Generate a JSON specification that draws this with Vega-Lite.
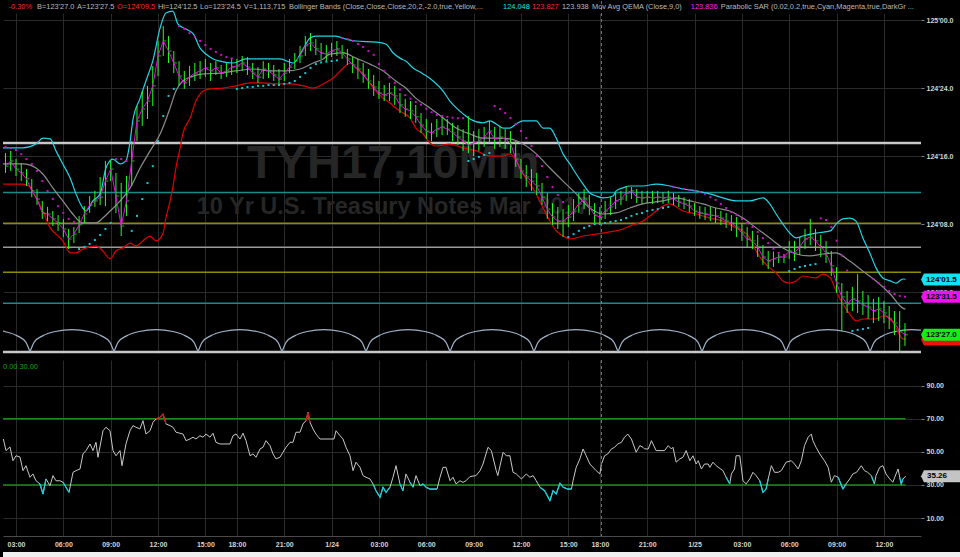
{
"$schema": "https://vega.github.io/schema/vega-lite/v6.json",
"background": "#000000",
"padding": 0,
"spacing": 4,
"config": {
 "view": {"stroke": null},
 "font": "Liberation Sans",
 "axis": {"labelFont": "Liberation Sans", "labelFontSize": 7, "labelFontWeight": "bold", "labelColor": "#d8d4cc", "gridColor": "#2a2a2a", "gridWidth": 1, "tickColor": "#808080", "domain": false},
 "text": {"font": "Liberation Sans"}
},
"datasets": {
 "one": [{}],
 "levels": [
  {"p": 124.549, "kind": "W"}, {"p": 123.781, "kind": "W"},
  {"p": 124.367, "kind": "T"}, {"p": 123.960, "kind": "T"},
  {"p": 124.254, "kind": "O"}, {"p": 124.074, "kind": "O"},
  {"p": 124.166, "kind": "G"}
 ],
 "hdr": [
  {"k": -1.4, "s": "-0.30%", "kind": "R"},
  {"k": 4.0, "s": "B=123'27.0", "kind": "N"},
  {"k": 11.6, "s": "A=123'27.5", "kind": "N"},
  {"k": 19.2, "s": "O=124'09.5", "kind": "R"},
  {"k": 27.0, "s": "Hi=124'12.5", "kind": "N"},
  {"k": 35.0, "s": "Lo=123'24.5", "kind": "N"},
  {"k": 43.3, "s": "V=1,113,715", "kind": "N"},
  {"k": 51.9, "s": "Bollinger Bands (Close,Close,Close,20,2,-2.0,true,Yellow,...", "kind": "N"},
  {"k": 92.6, "s": "124.048", "kind": "C"},
  {"k": 98.1, "s": "123.827", "kind": "R"},
  {"k": 103.8, "s": "123.938", "kind": "N"},
  {"k": 109.5, "s": "Mov Avg QEMA (Close,9,0)", "kind": "N"},
  {"k": 128.3, "s": "123.836", "kind": "M"},
  {"k": 134.0, "s": "Parabolic SAR (0.02,0.2,true,Cyan,Magenta,true,DarkGr ...", "kind": "N"}
 ],
 "arcs": [
  {"k":-2.47,"p":123.858,"a":0},{"k":-2.14,"p":123.856,"a":0},{"k":0.26,"p":123.840,"a":0},{"k":1.86,"p":123.817,"a":0},{"k":2.66,"p":123.781,"a":0},
  {"k":2.66,"p":123.781,"a":1},{"k":3.46,"p":123.817,"a":1},{"k":5.06,"p":123.840,"a":1},{"k":7.46,"p":123.856,"a":1},{"k":10.65,"p":123.863,"a":1},{"k":13.84,"p":123.856,"a":1},{"k":16.24,"p":123.840,"a":1},{"k":17.84,"p":123.817,"a":1},{"k":18.63,"p":123.781,"a":1},
  {"k":18.63,"p":123.781,"a":2},{"k":19.43,"p":123.817,"a":2},{"k":21.03,"p":123.840,"a":2},{"k":23.43,"p":123.856,"a":2},{"k":26.62,"p":123.863,"a":2},{"k":29.81,"p":123.856,"a":2},{"k":32.21,"p":123.840,"a":2},{"k":33.81,"p":123.817,"a":2},{"k":34.60,"p":123.781,"a":2},
  {"k":34.60,"p":123.781,"a":3},{"k":35.40,"p":123.817,"a":3},{"k":37.00,"p":123.840,"a":3},{"k":39.40,"p":123.856,"a":3},{"k":42.59,"p":123.863,"a":3},{"k":45.78,"p":123.856,"a":3},{"k":48.18,"p":123.840,"a":3},{"k":49.78,"p":123.817,"a":3},{"k":50.57,"p":123.781,"a":3},
  {"k":50.57,"p":123.781,"a":4},{"k":51.37,"p":123.817,"a":4},{"k":52.97,"p":123.840,"a":4},{"k":55.37,"p":123.856,"a":4},{"k":58.56,"p":123.863,"a":4},{"k":61.75,"p":123.856,"a":4},{"k":64.15,"p":123.840,"a":4},{"k":65.75,"p":123.817,"a":4},{"k":66.54,"p":123.781,"a":4},
  {"k":66.54,"p":123.781,"a":5},{"k":67.34,"p":123.817,"a":5},{"k":68.94,"p":123.840,"a":5},{"k":71.34,"p":123.856,"a":5},{"k":74.53,"p":123.863,"a":5},{"k":77.72,"p":123.856,"a":5},{"k":80.12,"p":123.840,"a":5},{"k":81.72,"p":123.817,"a":5},{"k":82.51,"p":123.781,"a":5},
  {"k":82.51,"p":123.781,"a":6},{"k":83.31,"p":123.817,"a":6},{"k":84.91,"p":123.840,"a":6},{"k":87.31,"p":123.856,"a":6},{"k":90.50,"p":123.863,"a":6},{"k":93.69,"p":123.856,"a":6},{"k":96.09,"p":123.840,"a":6},{"k":97.69,"p":123.817,"a":6},{"k":98.48,"p":123.781,"a":6},
  {"k":98.48,"p":123.781,"a":7},{"k":99.28,"p":123.817,"a":7},{"k":100.88,"p":123.840,"a":7},{"k":103.28,"p":123.856,"a":7},{"k":106.47,"p":123.863,"a":7},{"k":109.66,"p":123.856,"a":7},{"k":112.06,"p":123.840,"a":7},{"k":113.66,"p":123.817,"a":7},{"k":114.45,"p":123.781,"a":7},
  {"k":114.45,"p":123.781,"a":8},{"k":115.25,"p":123.817,"a":8},{"k":116.85,"p":123.840,"a":8},{"k":119.25,"p":123.856,"a":8},{"k":122.44,"p":123.863,"a":8},{"k":125.63,"p":123.856,"a":8},{"k":128.03,"p":123.840,"a":8},{"k":129.63,"p":123.817,"a":8},{"k":130.42,"p":123.781,"a":8},
  {"k":130.42,"p":123.781,"a":9},{"k":131.22,"p":123.817,"a":9},{"k":132.82,"p":123.840,"a":9},{"k":135.22,"p":123.856,"a":9},{"k":138.41,"p":123.863,"a":9},{"k":141.60,"p":123.856,"a":9},{"k":144.00,"p":123.840,"a":9},{"k":145.60,"p":123.817,"a":9},{"k":146.39,"p":123.781,"a":9},
  {"k":146.39,"p":123.781,"a":10},{"k":147.19,"p":123.817,"a":10},{"k":148.79,"p":123.840,"a":10},{"k":151.19,"p":123.856,"a":10},{"k":154.38,"p":123.863,"a":10},{"k":157.57,"p":123.856,"a":10},{"k":159.97,"p":123.840,"a":10},{"k":161.57,"p":123.817,"a":10},{"k":162.36,"p":123.781,"a":10},
  {"k":162.36,"p":123.781,"a":11},{"k":163.16,"p":123.817,"a":11},{"k":164.76,"p":123.840,"a":11},{"k":167.16,"p":123.856,"a":11},{"k":170.35,"p":123.863,"a":11},{"k":172.05,"p":123.861,"a":11}
 ],
 "bands": [
  {"k":-2.47,"p":124.531,"b":"U"},{"k":1.3,"p":124.531,"b":"U"},{"k":3.8,"p":124.545,"b":"U"},{"k":5.1,"p":124.567,"b":"U"},{"k":6.5,"p":124.564,"b":"U"},{"k":7.6,"p":124.520,"b":"U"},{"k":8.9,"p":124.472,"b":"U"},{"k":10.3,"p":124.420,"b":"U"},{"k":11.4,"p":124.362,"b":"U"},{"k":12.7,"p":124.310,"b":"U"},{"k":13.3,"p":124.299,"b":"U"},{"k":14.6,"p":124.336,"b":"U"},{"k":16.0,"p":124.362,"b":"U"},{"k":17.1,"p":124.457,"b":"U"},{"k":18.4,"p":124.490,"b":"U"},{"k":19.8,"p":124.472,"b":"U"},{"k":20.9,"p":124.483,"b":"U"},{"k":21.7,"p":124.556,"b":"U"},{"k":22.2,"p":124.630,"b":"U"},{"k":23.6,"p":124.714,"b":"U"},{"k":24.7,"p":124.777,"b":"U"},{"k":26.0,"p":124.850,"b":"U"},{"k":27.4,"p":124.972,"b":"U"},{"k":28.5,"p":125.027,"b":"U"},{"k":29.8,"p":125.034,"b":"U"},{"k":30.8,"p":124.986,"b":"U"},{"k":32.3,"p":124.968,"b":"U"},{"k":33.7,"p":124.950,"b":"U"},{"k":35.0,"p":124.898,"b":"U"},{"k":36.1,"p":124.876,"b":"U"},{"k":37.5,"p":124.858,"b":"U"},{"k":38.8,"p":124.850,"b":"U"},{"k":41.3,"p":124.843,"b":"U"},{"k":43.7,"p":124.858,"b":"U"},{"k":47.0,"p":124.858,"b":"U"},{"k":50.2,"p":124.858,"b":"U"},{"k":52.7,"p":124.843,"b":"U"},{"k":54.6,"p":124.895,"b":"U"},{"k":55.9,"p":124.935,"b":"U"},{"k":57.0,"p":124.942,"b":"U"},{"k":60.8,"p":124.942,"b":"U"},{"k":62.7,"p":124.931,"b":"U"},{"k":64.6,"p":124.924,"b":"U"},{"k":68.4,"p":124.920,"b":"U"},{"k":70.3,"p":124.913,"b":"U"},{"k":71.7,"p":124.880,"b":"U"},{"k":73.0,"p":124.861,"b":"U"},{"k":74.1,"p":124.850,"b":"U"},{"k":75.5,"p":124.825,"b":"U"},{"k":77.4,"p":124.803,"b":"U"},{"k":79.3,"p":124.777,"b":"U"},{"k":81.2,"p":124.740,"b":"U"},{"k":82.5,"p":124.703,"b":"U"},{"k":83.7,"p":124.678,"b":"U"},{"k":85.0,"p":124.656,"b":"U"},{"k":86.3,"p":124.637,"b":"U"},{"k":88.8,"p":124.623,"b":"U"},{"k":90.1,"p":124.630,"b":"U"},{"k":91.3,"p":124.619,"b":"U"},{"k":92.6,"p":124.604,"b":"U"},{"k":93.9,"p":124.604,"b":"U"},{"k":95.1,"p":124.619,"b":"U"},{"k":96.4,"p":124.630,"b":"U"},{"k":98.9,"p":124.630,"b":"U"},{"k":100.2,"p":124.604,"b":"U"},{"k":101.5,"p":124.604,"b":"U"},{"k":102.7,"p":124.567,"b":"U"},{"k":104.0,"p":124.509,"b":"U"},{"k":105.3,"p":124.472,"b":"U"},{"k":106.5,"p":124.435,"b":"U"},{"k":107.8,"p":124.398,"b":"U"},{"k":109.1,"p":124.365,"b":"U"},{"k":110.3,"p":124.354,"b":"U"},{"k":111.6,"p":124.347,"b":"U"},{"k":113.5,"p":124.354,"b":"U"},{"k":114.1,"p":124.373,"b":"U"},{"k":115.4,"p":124.384,"b":"U"},{"k":116.7,"p":124.391,"b":"U"},{"k":119.2,"p":124.391,"b":"U"},{"k":121.7,"p":124.398,"b":"U"},{"k":124.3,"p":124.391,"b":"U"},{"k":126.8,"p":124.380,"b":"U"},{"k":129.3,"p":124.373,"b":"U"},{"k":131.9,"p":124.362,"b":"U"},{"k":134.4,"p":124.347,"b":"U"},{"k":136.9,"p":124.336,"b":"U"},{"k":139.5,"p":124.336,"b":"U"},{"k":142.0,"p":124.347,"b":"U"},{"k":143.3,"p":124.325,"b":"U"},{"k":144.5,"p":124.288,"b":"U"},{"k":145.8,"p":124.251,"b":"U"},{"k":147.1,"p":124.218,"b":"U"},{"k":148.3,"p":124.200,"b":"U"},{"k":149.6,"p":124.207,"b":"U"},{"k":152.1,"p":124.218,"b":"U"},{"k":154.8,"p":124.226,"b":"U"},{"k":155.9,"p":124.251,"b":"U"},{"k":157.2,"p":124.270,"b":"U"},{"k":158.5,"p":124.273,"b":"U"},{"k":159.7,"p":124.262,"b":"U"},{"k":161.0,"p":124.200,"b":"U"},{"k":162.4,"p":124.141,"b":"U"},{"k":163.5,"p":124.090,"b":"U"},{"k":164.8,"p":124.053,"b":"U"},{"k":166.2,"p":124.042,"b":"U"},{"k":167.3,"p":124.034,"b":"U"},{"k":168.6,"p":124.049,"b":"U"},{"k":169.1,"p":124.048,"b":"U"},
  {"k":-2.47,"p":124.398,"b":"L"},{"k":1.3,"p":124.398,"b":"L"},{"k":2.7,"p":124.387,"b":"L"},{"k":3.8,"p":124.347,"b":"L"},{"k":5.1,"p":124.299,"b":"L"},{"k":6.5,"p":124.237,"b":"L"},{"k":7.6,"p":124.214,"b":"L"},{"k":8.9,"p":124.189,"b":"L"},{"k":10.3,"p":124.145,"b":"L"},{"k":11.4,"p":124.145,"b":"L"},{"k":12.7,"p":124.159,"b":"L"},{"k":15.2,"p":124.170,"b":"L"},{"k":16.5,"p":124.152,"b":"L"},{"k":17.9,"p":124.123,"b":"L"},{"k":19.0,"p":124.152,"b":"L"},{"k":20.3,"p":124.163,"b":"L"},{"k":21.7,"p":124.181,"b":"L"},{"k":22.8,"p":124.170,"b":"L"},{"k":24.1,"p":124.189,"b":"L"},{"k":25.5,"p":124.207,"b":"L"},{"k":26.6,"p":124.189,"b":"L"},{"k":27.9,"p":124.214,"b":"L"},{"k":28.5,"p":124.273,"b":"L"},{"k":29.3,"p":124.336,"b":"L"},{"k":29.8,"p":124.384,"b":"L"},{"k":30.4,"p":124.457,"b":"L"},{"k":31.2,"p":124.531,"b":"L"},{"k":31.7,"p":124.582,"b":"L"},{"k":33.1,"p":124.641,"b":"L"},{"k":34.2,"p":124.703,"b":"L"},{"k":35.6,"p":124.740,"b":"L"},{"k":36.9,"p":124.748,"b":"L"},{"k":39.4,"p":124.751,"b":"L"},{"k":41.8,"p":124.759,"b":"L"},{"k":44.5,"p":124.770,"b":"L"},{"k":47.0,"p":124.770,"b":"L"},{"k":49.4,"p":124.766,"b":"L"},{"k":52.1,"p":124.766,"b":"L"},{"k":54.6,"p":124.759,"b":"L"},{"k":56.5,"p":124.751,"b":"L"},{"k":58.4,"p":124.766,"b":"L"},{"k":60.3,"p":124.788,"b":"L"},{"k":62.2,"p":124.825,"b":"L"},{"k":63.5,"p":124.843,"b":"L"},{"k":64.6,"p":124.825,"b":"L"},{"k":66.0,"p":124.803,"b":"L"},{"k":67.3,"p":124.766,"b":"L"},{"k":68.4,"p":124.740,"b":"L"},{"k":69.8,"p":124.714,"b":"L"},{"k":71.1,"p":124.696,"b":"L"},{"k":72.2,"p":124.678,"b":"L"},{"k":73.6,"p":124.659,"b":"L"},{"k":74.9,"p":124.641,"b":"L"},{"k":76.0,"p":124.604,"b":"L"},{"k":77.4,"p":124.582,"b":"L"},{"k":78.7,"p":124.549,"b":"L"},{"k":79.8,"p":124.538,"b":"L"},{"k":82.5,"p":124.545,"b":"L"},{"k":85.0,"p":124.531,"b":"L"},{"k":87.5,"p":124.520,"b":"L"},{"k":90.1,"p":124.501,"b":"L"},{"k":92.6,"p":124.501,"b":"L"},{"k":93.9,"p":124.509,"b":"L"},{"k":95.1,"p":124.483,"b":"L"},{"k":96.4,"p":124.435,"b":"L"},{"k":97.7,"p":124.398,"b":"L"},{"k":98.9,"p":124.362,"b":"L"},{"k":100.2,"p":124.310,"b":"L"},{"k":101.5,"p":124.262,"b":"L"},{"k":102.7,"p":124.226,"b":"L"},{"k":104.0,"p":124.207,"b":"L"},{"k":105.3,"p":124.196,"b":"L"},{"k":106.5,"p":124.200,"b":"L"},{"k":107.8,"p":124.207,"b":"L"},{"k":110.3,"p":124.214,"b":"L"},{"k":112.9,"p":124.222,"b":"L"},{"k":115.4,"p":124.233,"b":"L"},{"k":116.7,"p":124.244,"b":"L"},{"k":119.2,"p":124.262,"b":"L"},{"k":121.7,"p":124.299,"b":"L"},{"k":123.0,"p":124.317,"b":"L"},{"k":124.3,"p":124.325,"b":"L"},{"k":126.8,"p":124.299,"b":"L"},{"k":129.3,"p":124.288,"b":"L"},{"k":131.9,"p":124.273,"b":"L"},{"k":134.4,"p":124.262,"b":"L"},{"k":136.9,"p":124.237,"b":"L"},{"k":138.2,"p":124.226,"b":"L"},{"k":139.5,"p":124.200,"b":"L"},{"k":140.7,"p":124.152,"b":"L"},{"k":142.0,"p":124.115,"b":"L"},{"k":143.3,"p":124.090,"b":"L"},{"k":144.5,"p":124.071,"b":"L"},{"k":145.8,"p":124.042,"b":"L"},{"k":147.1,"p":124.034,"b":"L"},{"k":148.3,"p":124.042,"b":"L"},{"k":149.6,"p":124.060,"b":"L"},{"k":152.1,"p":124.053,"b":"L"},{"k":153.4,"p":124.067,"b":"L"},{"k":154.8,"p":124.053,"b":"L"},{"k":155.9,"p":124.005,"b":"L"},{"k":157.2,"p":123.957,"b":"L"},{"k":158.5,"p":123.920,"b":"L"},{"k":159.7,"p":123.895,"b":"L"},{"k":161.0,"p":123.902,"b":"L"},{"k":163.5,"p":123.902,"b":"L"},{"k":164.8,"p":123.913,"b":"L"},{"k":166.2,"p":123.906,"b":"L"},{"k":167.3,"p":123.869,"b":"L"},{"k":168.6,"p":123.829,"b":"L"},{"k":169.1,"p":123.827,"b":"L"},
  {"k":-2.47,"p":124.472,"b":"M"},{"k":1.3,"p":124.472,"b":"M"},{"k":3.8,"p":124.457,"b":"M"},{"k":5.1,"p":124.435,"b":"M"},{"k":7.0,"p":124.384,"b":"M"},{"k":8.9,"p":124.336,"b":"M"},{"k":10.8,"p":124.288,"b":"M"},{"k":12.7,"p":124.255,"b":"M"},{"k":15.2,"p":124.255,"b":"M"},{"k":16.5,"p":124.273,"b":"M"},{"k":17.9,"p":124.299,"b":"M"},{"k":19.8,"p":124.336,"b":"M"},{"k":21.7,"p":124.384,"b":"M"},{"k":23.6,"p":124.457,"b":"M"},{"k":25.5,"p":124.520,"b":"M"},{"k":27.4,"p":124.582,"b":"M"},{"k":29.3,"p":124.678,"b":"M"},{"k":30.4,"p":124.740,"b":"M"},{"k":31.7,"p":124.777,"b":"M"},{"k":33.7,"p":124.795,"b":"M"},{"k":35.6,"p":124.803,"b":"M"},{"k":38.8,"p":124.806,"b":"M"},{"k":41.8,"p":124.814,"b":"M"},{"k":45.1,"p":124.821,"b":"M"},{"k":48.3,"p":124.814,"b":"M"},{"k":51.3,"p":124.814,"b":"M"},{"k":54.0,"p":124.821,"b":"M"},{"k":56.5,"p":124.843,"b":"M"},{"k":58.4,"p":124.858,"b":"M"},{"k":59.7,"p":124.876,"b":"M"},{"k":62.2,"p":124.880,"b":"M"},{"k":64.6,"p":124.861,"b":"M"},{"k":67.3,"p":124.839,"b":"M"},{"k":69.8,"p":124.814,"b":"M"},{"k":72.2,"p":124.777,"b":"M"},{"k":74.1,"p":124.751,"b":"M"},{"k":76.0,"p":124.714,"b":"M"},{"k":78.7,"p":124.678,"b":"M"},{"k":81.2,"p":124.641,"b":"M"},{"k":83.7,"p":124.604,"b":"M"},{"k":86.3,"p":124.582,"b":"M"},{"k":88.8,"p":124.567,"b":"M"},{"k":91.3,"p":124.567,"b":"M"},{"k":93.9,"p":124.564,"b":"M"},{"k":96.4,"p":124.545,"b":"M"},{"k":98.9,"p":124.509,"b":"M"},{"k":101.5,"p":124.457,"b":"M"},{"k":104.0,"p":124.409,"b":"M"},{"k":106.5,"p":124.362,"b":"M"},{"k":109.1,"p":124.310,"b":"M"},{"k":111.6,"p":124.288,"b":"M"},{"k":114.1,"p":124.292,"b":"M"},{"k":116.7,"p":124.310,"b":"M"},{"k":119.2,"p":124.325,"b":"M"},{"k":123.0,"p":124.336,"b":"M"},{"k":125.5,"p":124.347,"b":"M"},{"k":128.1,"p":124.336,"b":"M"},{"k":130.6,"p":124.325,"b":"M"},{"k":133.1,"p":124.310,"b":"M"},{"k":135.7,"p":124.299,"b":"M"},{"k":138.2,"p":124.273,"b":"M"},{"k":140.7,"p":124.237,"b":"M"},{"k":143.3,"p":124.200,"b":"M"},{"k":145.8,"p":124.163,"b":"M"},{"k":148.3,"p":124.141,"b":"M"},{"k":150.9,"p":124.134,"b":"M"},{"k":153.4,"p":124.141,"b":"M"},{"k":155.9,"p":124.145,"b":"M"},{"k":158.5,"p":124.115,"b":"M"},{"k":161.0,"p":124.078,"b":"M"},{"k":163.5,"p":124.042,"b":"M"},{"k":166.2,"p":123.994,"b":"M"},{"k":168.6,"p":123.942,"b":"M"},{"k":169.1,"p":123.938,"b":"M"}
 ],
 "bars": [
  {"k":-2,"h":124.512,"l":124.439,"c":124.464,"s":124.535,"sd":"d"},
  {"k":-1,"h":124.520,"l":124.446,"c":124.483,"s":124.530,"sd":"d"},
  {"k":0,"h":124.490,"l":124.428,"c":124.453,"s":124.523,"sd":"d"},
  {"k":1,"h":124.475,"l":124.409,"c":124.439,"s":124.508,"sd":"d"},
  {"k":2,"h":124.453,"l":124.391,"c":124.417,"s":124.490,"sd":"d"},
  {"k":3,"h":124.417,"l":124.350,"c":124.373,"s":124.472,"sd":"d"},
  {"k":4,"h":124.380,"l":124.321,"c":124.343,"s":124.446,"sd":"d"},
  {"k":5,"h":124.336,"l":124.270,"c":124.292,"s":124.409,"sd":"d"},
  {"k":6,"h":124.314,"l":124.262,"c":124.288,"s":124.373,"sd":"d"},
  {"k":7,"h":124.299,"l":124.244,"c":124.270,"s":124.343,"sd":"d"},
  {"k":8,"h":124.284,"l":124.226,"c":124.255,"s":124.317,"sd":"d"},
  {"k":9,"h":124.270,"l":124.203,"c":124.233,"s":124.292,"sd":"d"},
  {"k":10,"h":124.233,"l":124.159,"c":124.196,"s":124.270,"sd":"d"},
  {"k":11,"h":124.240,"l":124.181,"c":124.214,"s":124.259,"sd":"d"},
  {"k":12,"h":124.281,"l":124.218,"c":124.248,"s":124.159,"sd":"u"},
  {"k":13,"h":124.317,"l":124.255,"c":124.288,"s":124.167,"sd":"u"},
  {"k":14,"h":124.354,"l":124.292,"c":124.321,"s":124.178,"sd":"u"},
  {"k":15,"h":124.373,"l":124.314,"c":124.336,"s":124.192,"sd":"u"},
  {"k":16,"h":124.424,"l":124.321,"c":124.350,"s":124.211,"sd":"u"},
  {"k":17,"h":124.483,"l":124.317,"c":124.409,"s":124.233,"sd":"u"},
  {"k":18,"h":124.483,"l":124.409,"c":124.453,"s":124.255,"sd":"u"},
  {"k":19,"h":124.439,"l":124.292,"c":124.354,"s":124.490,"sd":"d"},
  {"k":20,"h":124.402,"l":124.207,"c":124.244,"s":124.490,"sd":"d"},
  {"k":21,"h":124.428,"l":124.281,"c":124.336,"s":124.483,"sd":"d"},
  {"k":22,"h":124.556,"l":124.391,"c":124.483,"s":124.226,"sd":"u"},
  {"k":23,"h":124.685,"l":124.556,"c":124.630,"s":124.281,"sd":"u"},
  {"k":24,"h":124.740,"l":124.612,"c":124.674,"s":124.343,"sd":"u"},
  {"k":25,"h":124.759,"l":124.637,"c":124.703,"s":124.402,"sd":"u"},
  {"k":26,"h":124.832,"l":124.685,"c":124.759,"s":124.464,"sd":"u"},
  {"k":27,"h":124.924,"l":124.795,"c":124.869,"s":124.556,"sd":"u"},
  {"k":28,"h":124.979,"l":124.869,"c":124.924,"s":124.648,"sd":"u"},
  {"k":29,"h":124.942,"l":124.843,"c":124.887,"s":124.722,"sd":"u"},
  {"k":30,"h":124.887,"l":124.806,"c":124.843,"s":124.748,"sd":"u"},
  {"k":31,"h":124.850,"l":124.759,"c":124.795,"s":124.979,"sd":"d"},
  {"k":32,"h":124.814,"l":124.748,"c":124.770,"s":124.968,"sd":"d"},
  {"k":33,"h":124.832,"l":124.759,"c":124.792,"s":124.953,"sd":"d"},
  {"k":34,"h":124.843,"l":124.777,"c":124.806,"s":124.939,"sd":"d"},
  {"k":35,"h":124.850,"l":124.784,"c":124.814,"s":124.924,"sd":"d"},
  {"k":36,"h":124.858,"l":124.792,"c":124.825,"s":124.909,"sd":"d"},
  {"k":37,"h":124.843,"l":124.777,"c":124.814,"s":124.895,"sd":"d"},
  {"k":38,"h":124.850,"l":124.799,"c":124.825,"s":124.884,"sd":"d"},
  {"k":39,"h":124.836,"l":124.784,"c":124.806,"s":124.873,"sd":"d"},
  {"k":40,"h":124.843,"l":124.792,"c":124.814,"s":124.865,"sd":"d"},
  {"k":41,"h":124.858,"l":124.799,"c":124.828,"s":124.860,"sd":"d"},
  {"k":42,"h":124.858,"l":124.806,"c":124.832,"s":124.748,"sd":"u"},
  {"k":43,"h":124.869,"l":124.814,"c":124.843,"s":124.751,"sd":"u"},
  {"k":44,"h":124.865,"l":124.799,"c":124.828,"s":124.755,"sd":"u"},
  {"k":45,"h":124.843,"l":124.784,"c":124.806,"s":124.755,"sd":"u"},
  {"k":46,"h":124.828,"l":124.770,"c":124.792,"s":124.759,"sd":"u"},
  {"k":47,"h":124.850,"l":124.784,"c":124.821,"s":124.759,"sd":"u"},
  {"k":48,"h":124.843,"l":124.788,"c":124.814,"s":124.762,"sd":"u"},
  {"k":49,"h":124.836,"l":124.777,"c":124.799,"s":124.762,"sd":"u"},
  {"k":50,"h":124.821,"l":124.766,"c":124.784,"s":124.762,"sd":"u"},
  {"k":51,"h":124.843,"l":124.777,"c":124.806,"s":124.766,"sd":"u"},
  {"k":52,"h":124.858,"l":124.806,"c":124.828,"s":124.770,"sd":"u"},
  {"k":53,"h":124.880,"l":124.821,"c":124.850,"s":124.777,"sd":"u"},
  {"k":54,"h":124.906,"l":124.843,"c":124.869,"s":124.792,"sd":"u"},
  {"k":55,"h":124.942,"l":124.869,"c":124.906,"s":124.806,"sd":"u"},
  {"k":56,"h":124.953,"l":124.887,"c":124.917,"s":124.825,"sd":"u"},
  {"k":57,"h":124.931,"l":124.872,"c":124.895,"s":124.839,"sd":"u"},
  {"k":58,"h":124.917,"l":124.858,"c":124.880,"s":124.845,"sd":"u"},
  {"k":59,"h":124.909,"l":124.850,"c":124.876,"s":124.848,"sd":"u"},
  {"k":60,"h":124.917,"l":124.865,"c":124.887,"s":124.850,"sd":"u"},
  {"k":61,"h":124.924,"l":124.869,"c":124.895,"s":124.853,"sd":"u"},
  {"k":62,"h":124.909,"l":124.858,"c":124.880,"s":124.935,"sd":"d"},
  {"k":63,"h":124.895,"l":124.836,"c":124.858,"s":124.931,"sd":"d"},
  {"k":64,"h":124.865,"l":124.806,"c":124.836,"s":124.924,"sd":"d"},
  {"k":65,"h":124.858,"l":124.784,"c":124.821,"s":124.913,"sd":"d"},
  {"k":66,"h":124.843,"l":124.770,"c":124.799,"s":124.902,"sd":"d"},
  {"k":67,"h":124.821,"l":124.748,"c":124.777,"s":124.887,"sd":"d"},
  {"k":68,"h":124.799,"l":124.722,"c":124.755,"s":124.873,"sd":"d"},
  {"k":69,"h":124.777,"l":124.711,"c":124.733,"s":124.839,"sd":"d"},
  {"k":70,"h":124.762,"l":124.703,"c":124.725,"s":124.814,"sd":"d"},
  {"k":71,"h":124.770,"l":124.703,"c":124.733,"s":124.790,"sd":"d"},
  {"k":72,"h":124.759,"l":124.689,"c":124.722,"s":124.770,"sd":"d"},
  {"k":73,"h":124.733,"l":124.659,"c":124.689,"s":124.745,"sd":"d"},
  {"k":74,"h":124.711,"l":124.645,"c":124.674,"s":124.725,"sd":"d"},
  {"k":75,"h":124.703,"l":124.637,"c":124.667,"s":124.712,"sd":"d"},
  {"k":76,"h":124.689,"l":124.623,"c":124.645,"s":124.700,"sd":"d"},
  {"k":77,"h":124.659,"l":124.586,"c":124.615,"s":124.690,"sd":"d"},
  {"k":78,"h":124.637,"l":124.564,"c":124.593,"s":124.675,"sd":"d"},
  {"k":79,"h":124.623,"l":124.556,"c":124.586,"s":124.662,"sd":"d"},
  {"k":80,"h":124.637,"l":124.571,"c":124.600,"s":124.652,"sd":"d"},
  {"k":81,"h":124.645,"l":124.578,"c":124.608,"s":124.648,"sd":"d"},
  {"k":82,"h":124.637,"l":124.578,"c":124.600,"s":124.645,"sd":"d"},
  {"k":83,"h":124.623,"l":124.556,"c":124.586,"s":124.642,"sd":"d"},
  {"k":84,"h":124.615,"l":124.542,"c":124.571,"s":124.640,"sd":"d"},
  {"k":85,"h":124.600,"l":124.520,"c":124.556,"s":124.640,"sd":"d"},
  {"k":86,"h":124.648,"l":124.512,"c":124.542,"s":124.483,"sd":"u"},
  {"k":87,"h":124.593,"l":124.501,"c":124.549,"s":124.490,"sd":"u"},
  {"k":88,"h":124.600,"l":124.520,"c":124.556,"s":124.498,"sd":"u"},
  {"k":89,"h":124.608,"l":124.534,"c":124.571,"s":124.505,"sd":"u"},
  {"k":90,"h":124.630,"l":124.549,"c":124.593,"s":124.512,"sd":"u"},
  {"k":91,"h":124.608,"l":124.527,"c":124.564,"s":124.685,"sd":"d"},
  {"k":92,"h":124.612,"l":124.534,"c":124.571,"s":124.674,"sd":"d"},
  {"k":93,"h":124.600,"l":124.527,"c":124.564,"s":124.659,"sd":"d"},
  {"k":94,"h":124.593,"l":124.512,"c":124.549,"s":124.641,"sd":"d"},
  {"k":95,"h":124.556,"l":124.461,"c":124.490,"s":124.619,"sd":"d"},
  {"k":96,"h":124.490,"l":124.417,"c":124.446,"s":124.593,"sd":"d"},
  {"k":97,"h":124.468,"l":124.387,"c":124.424,"s":124.567,"sd":"d"},
  {"k":98,"h":124.453,"l":124.373,"c":124.409,"s":124.538,"sd":"d"},
  {"k":99,"h":124.439,"l":124.358,"c":124.391,"s":124.501,"sd":"d"},
  {"k":100,"h":124.402,"l":124.321,"c":124.350,"s":124.464,"sd":"d"},
  {"k":101,"h":124.365,"l":124.270,"c":124.306,"s":124.424,"sd":"d"},
  {"k":102,"h":124.328,"l":124.248,"c":124.277,"s":124.387,"sd":"d"},
  {"k":103,"h":124.314,"l":124.233,"c":124.262,"s":124.358,"sd":"d"},
  {"k":104,"h":124.306,"l":124.203,"c":124.262,"s":124.332,"sd":"d"},
  {"k":105,"h":124.321,"l":124.240,"c":124.277,"s":124.203,"sd":"u"},
  {"k":106,"h":124.343,"l":124.262,"c":124.299,"s":124.214,"sd":"u"},
  {"k":107,"h":124.365,"l":124.292,"c":124.325,"s":124.226,"sd":"u"},
  {"k":108,"h":124.380,"l":124.306,"c":124.343,"s":124.237,"sd":"u"},
  {"k":109,"h":124.358,"l":124.284,"c":124.314,"s":124.244,"sd":"u"},
  {"k":110,"h":124.328,"l":124.255,"c":124.284,"s":124.251,"sd":"u"},
  {"k":111,"h":124.314,"l":124.255,"c":124.277,"s":124.252,"sd":"u"},
  {"k":112,"h":124.336,"l":124.270,"c":124.299,"s":124.255,"sd":"u"},
  {"k":113,"h":124.350,"l":124.284,"c":124.314,"s":124.259,"sd":"u"},
  {"k":114,"h":124.365,"l":124.306,"c":124.336,"s":124.262,"sd":"u"},
  {"k":115,"h":124.373,"l":124.321,"c":124.343,"s":124.266,"sd":"u"},
  {"k":116,"h":124.391,"l":124.336,"c":124.365,"s":124.273,"sd":"u"},
  {"k":117,"h":124.387,"l":124.343,"c":124.373,"s":124.281,"sd":"u"},
  {"k":118,"h":124.380,"l":124.328,"c":124.350,"s":124.288,"sd":"u"},
  {"k":119,"h":124.373,"l":124.325,"c":124.347,"s":124.292,"sd":"u"},
  {"k":120,"h":124.373,"l":124.328,"c":124.350,"s":124.299,"sd":"u"},
  {"k":121,"h":124.373,"l":124.325,"c":124.347,"s":124.303,"sd":"u"},
  {"k":122,"h":124.373,"l":124.328,"c":124.350,"s":124.306,"sd":"u"},
  {"k":123,"h":124.369,"l":124.325,"c":124.347,"s":124.310,"sd":"u"},
  {"k":124,"h":124.373,"l":124.328,"c":124.350,"s":124.314,"sd":"u"},
  {"k":125,"h":124.365,"l":124.321,"c":124.343,"s":124.387,"sd":"d"},
  {"k":126,"h":124.358,"l":124.314,"c":124.332,"s":124.384,"sd":"d"},
  {"k":127,"h":124.350,"l":124.306,"c":124.325,"s":124.380,"sd":"d"},
  {"k":128,"h":124.343,"l":124.295,"c":124.317,"s":124.376,"sd":"d"},
  {"k":129,"h":124.328,"l":124.281,"c":124.299,"s":124.373,"sd":"d"},
  {"k":130,"h":124.317,"l":124.270,"c":124.292,"s":124.369,"sd":"d"},
  {"k":131,"h":124.314,"l":124.266,"c":124.288,"s":124.362,"sd":"d"},
  {"k":132,"h":124.314,"l":124.262,"c":124.284,"s":124.350,"sd":"d"},
  {"k":133,"h":124.310,"l":124.255,"c":124.281,"s":124.340,"sd":"d"},
  {"k":134,"h":124.299,"l":124.248,"c":124.273,"s":124.325,"sd":"d"},
  {"k":135,"h":124.292,"l":124.237,"c":124.262,"s":124.310,"sd":"d"},
  {"k":136,"h":124.284,"l":124.226,"c":124.255,"s":124.295,"sd":"d"},
  {"k":137,"h":124.277,"l":124.203,"c":124.240,"s":124.284,"sd":"d"},
  {"k":138,"h":124.255,"l":124.189,"c":124.218,"s":124.270,"sd":"d"},
  {"k":139,"h":124.240,"l":124.167,"c":124.196,"s":124.255,"sd":"d"},
  {"k":140,"h":124.226,"l":124.159,"c":124.189,"s":124.240,"sd":"d"},
  {"k":141,"h":124.211,"l":124.130,"c":124.167,"s":124.222,"sd":"d"},
  {"k":142,"h":124.174,"l":124.101,"c":124.130,"s":124.200,"sd":"d"},
  {"k":143,"h":124.152,"l":124.086,"c":124.115,"s":124.181,"sd":"d"},
  {"k":144,"h":124.150,"l":124.093,"c":124.123,"s":124.160,"sd":"d"},
  {"k":145,"h":124.140,"l":124.108,"c":124.130,"s":124.145,"sd":"d"},
  {"k":146,"h":124.135,"l":124.108,"c":124.130,"s":124.137,"sd":"d"},
  {"k":147,"h":124.189,"l":124.123,"c":124.152,"s":124.078,"sd":"u"},
  {"k":148,"h":124.189,"l":124.115,"c":124.145,"s":124.086,"sd":"u"},
  {"k":149,"h":124.203,"l":124.137,"c":124.167,"s":124.093,"sd":"u"},
  {"k":150,"h":124.233,"l":124.159,"c":124.196,"s":124.097,"sd":"u"},
  {"k":151,"h":124.270,"l":124.174,"c":124.203,"s":124.101,"sd":"u"},
  {"k":152,"h":124.233,"l":124.152,"c":124.189,"s":124.104,"sd":"u"},
  {"k":153,"h":124.211,"l":124.130,"c":124.167,"s":124.272,"sd":"d"},
  {"k":154,"h":124.189,"l":124.108,"c":124.145,"s":124.266,"sd":"d"},
  {"k":155,"h":124.152,"l":124.060,"c":124.097,"s":124.240,"sd":"d"},
  {"k":156,"h":124.093,"l":123.998,"c":124.034,"s":124.190,"sd":"d"},
  {"k":157,"h":124.034,"l":123.858,"c":123.983,"s":124.135,"sd":"d"},
  {"k":158,"h":124.005,"l":123.924,"c":123.957,"s":124.080,"sd":"d"},
  {"k":159,"h":124.020,"l":123.931,"c":123.976,"s":123.858,"sd":"u"},
  {"k":160,"h":124.067,"l":123.924,"c":123.968,"s":123.862,"sd":"u"},
  {"k":161,"h":124.005,"l":123.917,"c":123.953,"s":123.865,"sd":"u"},
  {"k":162,"h":123.990,"l":123.902,"c":123.946,"s":123.869,"sd":"u"},
  {"k":163,"h":123.976,"l":123.887,"c":123.931,"s":124.049,"sd":"d"},
  {"k":164,"h":123.983,"l":123.895,"c":123.939,"s":124.034,"sd":"d"},
  {"k":165,"h":123.968,"l":123.887,"c":123.924,"s":124.020,"sd":"d"},
  {"k":166,"h":123.950,"l":123.865,"c":123.902,"s":124.005,"sd":"d"},
  {"k":167,"h":123.931,"l":123.843,"c":123.887,"s":123.994,"sd":"d"},
  {"k":168,"h":123.931,"l":123.777,"c":123.858,"s":123.987,"sd":"d"},
  {"k":169,"h":123.887,"l":123.803,"c":123.844,"s":123.984,"sd":"d"}
 ],
 "rsi": [
  {"k":-2.4,"v":57.7},{"k":-1.9,"v":50.7},{"k":-1.14,"v":52.9},{"k":-0.57,"v":44.6},{"k":0,"v":47.6},{"k":0.76,"v":46.8},{"k":1.33,"v":38.6},{"k":1.9,"v":41.6},{"k":2.66,"v":34.6},{"k":3.23,"v":36.6},{"k":3.8,"v":32.5},{"k":4.56,"v":30.6,"g":"c1"},{"k":5.13,"v":24.5,"g":"c1"},{"k":5.7,"v":33.6,"g":"c1"},{"k":6.46,"v":29.5},{"k":7.03,"v":35.6},{"k":7.6,"v":32.5},{"k":8.37,"v":32.5},{"k":8.94,"v":31.6,"g":"c2"},{"k":9.5,"v":28.6,"g":"c2"},{"k":10.08,"v":25.5,"g":"c2"},{"k":10.84,"v":37.6},{"k":11.41,"v":38.6},{"k":12.17,"v":39.6},{"k":12.74,"v":48.7},{"k":13.31,"v":50.7},{"k":14.07,"v":54.7},{"k":14.64,"v":50.7},{"k":15.21,"v":55.7},{"k":15.59,"v":46.7},{"k":16.54,"v":62.7},{"k":17.11,"v":64.8},{"k":17.87,"v":62.7},{"k":18.44,"v":50.7},{"k":19.01,"v":47.6},{"k":19.77,"v":50.7},{"k":20.15,"v":41.6},{"k":20.91,"v":54.7},{"k":21.67,"v":62.7},{"k":22.24,"v":65.8},{"k":22.81,"v":64.8},{"k":23.57,"v":63.8},{"k":24.14,"v":68.8},{"k":24.71,"v":60.7},{"k":25.48,"v":62.7},{"k":26.05,"v":67.8},{"k":26.62,"v":69.8,"g":"r1"},{"k":27.38,"v":70.8,"g":"r1"},{"k":27.95,"v":72.8,"g":"r1"},{"k":28.52,"v":66.8,"g":"r1"},{"k":29.28,"v":65.8},{"k":29.85,"v":64.8},{"k":30.42,"v":61.8},{"k":31.75,"v":60.7},{"k":32.32,"v":56.7},{"k":33.08,"v":57.7},{"k":33.65,"v":58.8},{"k":34.22,"v":57.7},{"k":34.98,"v":59.7},{"k":35.55,"v":58.8},{"k":36.12,"v":60.7},{"k":36.88,"v":58.8},{"k":37.45,"v":61.2},{"k":38.02,"v":55.7},{"k":38.78,"v":54.7},{"k":40.68,"v":54.7},{"k":41.25,"v":59.7},{"k":41.83,"v":60.7},{"k":42.59,"v":57.7},{"k":43.16,"v":61.2},{"k":43.73,"v":56.7},{"k":44.49,"v":47.6},{"k":45.06,"v":48.7},{"k":45.63,"v":46.7},{"k":46.39,"v":51.7},{"k":46.96,"v":52.7},{"k":47.53,"v":56.7},{"k":48.29,"v":53.7},{"k":48.86,"v":48.7},{"k":49.43,"v":45.7},{"k":50.19,"v":46.7},{"k":50.76,"v":49.7},{"k":51.33,"v":52.7},{"k":52.09,"v":55.7},{"k":52.66,"v":55.7},{"k":53.23,"v":61.8},{"k":53.99,"v":61.8},{"k":54.56,"v":66.8},{"k":55.13,"v":68.8,"g":"r2"},{"k":55.51,"v":73.8,"g":"r2"},{"k":55.89,"v":67.8,"g":"r2"},{"k":56.46,"v":63.8},{"k":57.03,"v":60.7},{"k":57.79,"v":57.7},{"k":60.46,"v":57.7},{"k":60.84,"v":62.7},{"k":61.6,"v":59.7},{"k":62.17,"v":57.7},{"k":62.74,"v":52.7},{"k":63.5,"v":47.6},{"k":64.07,"v":38.6},{"k":64.64,"v":43.7},{"k":65.4,"v":40.6},{"k":65.97,"v":35.6},{"k":66.54,"v":34.6},{"k":67.3,"v":33.6},{"k":67.87,"v":30.6,"g":"c3"},{"k":68.44,"v":26.5,"g":"c3"},{"k":69.2,"v":22.5,"g":"c3"},{"k":69.77,"v":28.6,"g":"c3"},{"k":70.34,"v":25.5,"g":"c3"},{"k":71.1,"v":28.6,"g":"c3"},{"k":71.67,"v":34.6},{"k":72.24,"v":41.6},{"k":73,"v":30.6,"g":"c4"},{"k":73.57,"v":26.5,"g":"c4"},{"k":74.14,"v":36.6},{"k":74.9,"v":31.6,"g":"c5"},{"k":75.48,"v":28.6,"g":"c5"},{"k":76.05,"v":35.6},{"k":76.81,"v":29.5,"g":"c6"},{"k":77.38,"v":30.6,"g":"c6"},{"k":77.95,"v":28.6,"g":"c6"},{"k":78.71,"v":27.5,"g":"c6"},{"k":80.04,"v":27.5,"g":"c6"},{"k":80.61,"v":34.6},{"k":81.18,"v":40.6},{"k":81.75,"v":40.6},{"k":82.51,"v":32.5},{"k":83.08,"v":34.6},{"k":83.65,"v":30.6},{"k":84.41,"v":32.5},{"k":84.98,"v":31.5},{"k":85.55,"v":32.5},{"k":86.31,"v":35},{"k":87.45,"v":35.6},{"k":88.21,"v":38.5},{"k":88.78,"v":42.6},{"k":89.73,"v":52.7},{"k":90.37,"v":50.7},{"k":91.3,"v":38.6},{"k":91.6,"v":35.6},{"k":92.6,"v":49.7},{"k":93.2,"v":47.6},{"k":93.9,"v":47.6},{"k":94.5,"v":37.6},{"k":95.1,"v":36.6},{"k":96.1,"v":33.6},{"k":97,"v":36.6},{"k":97.7,"v":34.6},{"k":98.3,"v":35.6},{"k":98.9,"v":32.5},{"k":99.6,"v":28.6,"g":"c7"},{"k":100.5,"v":26.5,"g":"c7"},{"k":101.5,"v":20.5,"g":"c7"},{"k":102.1,"v":26.5,"g":"c7"},{"k":102.7,"v":24.5,"g":"c7"},{"k":103.4,"v":31,"g":"c7"},{"k":104,"v":28.6,"g":"c7"},{"k":104.9,"v":27.5,"g":"c7"},{"k":105.6,"v":27.5,"g":"c7"},{"k":105.9,"v":32.5},{"k":106.5,"v":40.6},{"k":107.2,"v":45.7},{"k":107.8,"v":51.7},{"k":108.4,"v":47.6},{"k":109.1,"v":42.6},{"k":110.3,"v":38.6},{"k":111,"v":36.6},{"k":111.3,"v":42.6},{"k":111.9,"v":47.6},{"k":112.5,"v":48.7},{"k":113.2,"v":51.7},{"k":113.8,"v":52.7},{"k":114.4,"v":54.7},{"k":115.1,"v":55.7},{"k":115.7,"v":58.8},{"k":116.3,"v":60.7},{"k":117,"v":57.7},{"k":117.9,"v":49.7},{"k":118.6,"v":53.7},{"k":119.2,"v":52.7},{"k":119.5,"v":51.7},{"k":120.2,"v":51.7},{"k":120.8,"v":56.7},{"k":121.7,"v":50.7},{"k":123.3,"v":50.7},{"k":124,"v":53.7},{"k":124.6,"v":51.7},{"k":124.9,"v":52.7},{"k":125.5,"v":43.7},{"k":126.2,"v":45.7},{"k":126.8,"v":46.7},{"k":127.4,"v":50.7},{"k":128.1,"v":44.6},{"k":128.7,"v":47.6},{"k":129.3,"v":42.6},{"k":129.7,"v":44.6},{"k":130.3,"v":39.6},{"k":130.9,"v":42.6},{"k":131.6,"v":42.6},{"k":131.9,"v":40.6},{"k":132.5,"v":43.7},{"k":133.1,"v":41.6},{"k":134.4,"v":38.6},{"k":135,"v":34.6,"g":"c8"},{"k":135.7,"v":30.6,"g":"c8"},{"k":136,"v":36.6},{"k":136.6,"v":39.6},{"k":136.9,"v":47.6},{"k":137.6,"v":47.6},{"k":138.2,"v":32.5},{"k":138.8,"v":30.6},{"k":139.5,"v":33.6},{"k":140.1,"v":37.6},{"k":140.7,"v":35.6},{"k":141.4,"v":32.5,"g":"c9"},{"k":142,"v":25.5,"g":"c9"},{"k":142.6,"v":27.5,"g":"c9"},{"k":143,"v":33.6,"g":"c9"},{"k":143.6,"v":41.6},{"k":144.2,"v":37.6},{"k":144.9,"v":37.6},{"k":145.5,"v":38.6},{"k":146.4,"v":43.7},{"k":147.4,"v":44.6},{"k":148,"v":42.6},{"k":148.7,"v":39.6},{"k":149.3,"v":44.6},{"k":149.9,"v":53.7},{"k":150.6,"v":58.8},{"k":151.2,"v":60.7},{"k":151.5,"v":56.7},{"k":152.1,"v":52.7},{"k":152.8,"v":48.7},{"k":153.7,"v":44.6},{"k":154.4,"v":40.6},{"k":155,"v":31.6},{"k":155.6,"v":35.6},{"k":156.3,"v":34.6,"g":"c10"},{"k":157.2,"v":27.5,"g":"c10"},{"k":157.8,"v":30.6,"g":"c10"},{"k":158.5,"v":33.6},{"k":159.1,"v":36.6},{"k":159.8,"v":37.6},{"k":160.7,"v":41.6},{"k":161.3,"v":38.6},{"k":161.9,"v":37.6},{"k":162.6,"v":35.6,"g":"c11"},{"k":163.2,"v":30.6,"g":"c11"},{"k":163.5,"v":35.6},{"k":164.2,"v":40.6},{"k":164.8,"v":41.6},{"k":165.4,"v":36.6},{"k":166.1,"v":33.6},{"k":166.7,"v":31.6},{"k":167.3,"v":36.6},{"k":167.7,"v":39.6},{"k":168,"v":34.6,"g":"c12"},{"k":168.3,"v":30.6,"g":"c12"},{"k":168.6,"v":33.6,"g":"c12"},{"k":169,"v":34.6},{"k":169.1,"v":35.26}
 ],
 "tags": [
  {"p": 124.047, "txt": "124'01.5", "kind": "C"},
  {"p": 123.984, "txt": "123'31.5", "kind": "M"},
  {"p": 123.827, "txt": "", "kind": "R"},
  {"p": 123.844, "txt": "123'27.0", "kind": "G"}
 ]
},
"vconcat": [
 {
  "width": 918,
  "height": 352,
  "resolve": {"scale": {"color": "independent"}},
  "layer": [
   {
    "data": {"name": "one"},
    "mark": {"type": "rect", "color": "#000000"},
    "encoding": {
     "x": {"datum": -2.47, "type": "quantitative"}, "x2": {"datum": 172.05},
     "y": {"datum": 125.071, "type": "quantitative"}, "y2": {"datum": 125.024}
    }
   },
   {
    "data": {"name": "levels"},
    "transform": [{"filter": "datum.kind == 'W'"}],
    "mark": {"type": "rule", "color": "#c8c8c8", "strokeWidth": 2.5},
    "encoding": {"y": {"field": "p", "type": "quantitative"}}
   },
   {
    "data": {"name": "levels"},
    "transform": [{"filter": "datum.kind != 'W'"}],
    "mark": {"type": "rule", "strokeWidth": 1.5},
    "encoding": {
     "y": {"field": "p", "type": "quantitative"},
     "color": {"field": "kind", "type": "nominal", "scale": {"domain": ["T", "O", "G"], "range": ["#178c8c", "#8c8c00", "#9a9a9a"]}, "legend": null}
    }
   },
   {
    "data": {"name": "arcs"},
    "mark": {"type": "line", "color": "#9fb2c8", "strokeWidth": 1.2, "interpolate": "monotone"},
    "encoding": {
     "x": {"field": "k", "type": "quantitative"},
     "y": {"field": "p", "type": "quantitative"},
     "detail": {"field": "a", "type": "nominal"}
    }
   },
   {
    "data": {"name": "one"},
    "mark": {"type": "text", "align": "center", "baseline": "alphabetic", "fontSize": 47, "fontWeight": "bold", "color": "#262626"},
    "encoding": {"x": {"datum": 71.7, "type": "quantitative"}, "y": {"datum": 124.421, "type": "quantitative"}, "text": {"value": "TYH17,10Min"}}
   },
   {
    "data": {"name": "one"},
    "mark": {"type": "text", "align": "center", "baseline": "alphabetic", "fontSize": 23.5, "fontWeight": "bold", "color": "#262626"},
    "encoding": {"x": {"datum": 71.7, "type": "quantitative"}, "y": {"datum": 124.287, "type": "quantitative"}, "text": {"value": "10 Yr U.S. Treasury Notes Mar 2017"}}
   },
   {
    "data": {"name": "bands"},
    "mark": {"type": "line", "strokeWidth": 1.2, "interpolate": "monotone"},
    "encoding": {
     "x": {"field": "k", "type": "quantitative", "scale": {"domain": [-2.47, 172.05], "nice": false, "zero": false},
           "axis": {"values": [0,9,18,27,36,42,51,60,69,78,87,96,105,111,120,129,138,147,156,165], "labels": false, "ticks": false, "domain": false, "grid": true, "title": null}},
     "y": {"field": "p", "type": "quantitative", "scale": {"domain": [123.777, 125.071], "nice": false, "zero": false},
           "axis": {"orient": "right", "values": [124, 124.25, 124.5, 124.75, 125], "labelExpr": "floor(datum.value) + \"'\" + ((datum.value - floor(datum.value)) * 32 < 10 ? '0' : '') + format((datum.value - floor(datum.value)) * 32, '.1f')", "grid": true, "tickSize": 3, "labelPadding": 2, "title": null, "domain": false}},
     "color": {"field": "b", "type": "nominal", "scale": {"domain": ["U", "L", "M"], "range": ["#22d4e4", "#e00000", "#8c8c8c"]}, "legend": null}
    }
   },
   {
    "data": {"name": "bars"},
    "mark": {"type": "rule", "color": "#22ff22", "strokeWidth": 1},
    "encoding": {
     "x": {"field": "k", "type": "quantitative"},
     "y": {"field": "l", "type": "quantitative"},
     "y2": {"field": "h"}
    }
   },
   {
    "data": {"name": "bars"},
    "mark": {"type": "tick", "orient": "horizontal", "color": "#22ff22", "size": 3, "thickness": 1, "xOffset": 1.5},
    "encoding": {
     "x": {"field": "k", "type": "quantitative"},
     "y": {"field": "c", "type": "quantitative"}
    }
   },
   {
    "data": {"name": "bars"},
    "mark": {"type": "line", "color": "#e010e0", "strokeWidth": 1},
    "encoding": {
     "x": {"field": "k", "type": "quantitative"},
     "y": {"field": "c", "type": "quantitative"}
    }
   },
   {
    "data": {"name": "bars"},
    "mark": {"type": "point", "shape": "square", "filled": true, "size": 4, "opacity": 1},
    "encoding": {
     "x": {"field": "k", "type": "quantitative"},
     "y": {"field": "s", "type": "quantitative"},
     "color": {"field": "sd", "type": "nominal", "scale": {"domain": ["u", "d"], "range": ["#10c8d8", "#c810c8"]}, "legend": null}
    }
   },
   {
    "data": {"name": "one"},
    "mark": {"type": "rule", "color": "#7a7a7a", "strokeDash": [3, 3], "strokeWidth": 1},
    "encoding": {"x": {"datum": 111.3, "type": "quantitative"}}
   },
   {
    "data": {"name": "hdr"},
    "mark": {"type": "text", "align": "left", "baseline": "alphabetic", "fontSize": 7.4},
    "encoding": {
     "x": {"field": "k", "type": "quantitative"},
     "y": {"datum": 125.042, "type": "quantitative"},
     "text": {"field": "s"},
     "color": {"field": "kind", "type": "nominal", "scale": {"domain": ["N", "R", "C", "M"], "range": ["#bcbcbc", "#ff2a2a", "#10e0f0", "#ff20ff"]}, "legend": null}
    }
   },
   {
    "data": {"name": "tags"},
    "mark": {"type": "point", "shape": "M0,0 L0.07,-0.143 L1,-0.143 L1,0.143 L0.07,0.143 Z", "size": 7056, "filled": true, "opacity": 1, "strokeWidth": 0},
    "encoding": {
     "x": {"datum": 172.05, "type": "quantitative"},
     "y": {"field": "p", "type": "quantitative"},
     "color": {"field": "kind", "type": "nominal", "scale": {"domain": ["C", "M", "R", "G"], "range": ["#10e4f4", "#f010f0", "#f01010", "#10f010"]}, "legend": null}
    }
   },
   {
    "data": {"name": "tags"},
    "mark": {"type": "text", "align": "left", "baseline": "middle", "dx": 5, "fontSize": 8, "fontWeight": "bold", "color": "#000000"},
    "encoding": {
     "x": {"datum": 172.05, "type": "quantitative"},
     "y": {"field": "p", "type": "quantitative"},
     "text": {"field": "txt"}
    }
   }
  ]
 },
 {
  "width": 918,
  "height": 176,
  "layer": [
   {
    "data": {"values": [{"v": 70}, {"v": 30}]},
    "mark": {"type": "rule", "color": "#1a8c1a", "strokeWidth": 1.5},
    "encoding": {
     "x": {"datum": -2.47, "type": "quantitative"}, "x2": {"datum": 169.1},
     "y": {"field": "v", "type": "quantitative"}
    }
   },
   {
    "data": {"name": "rsi"},
    "mark": {"type": "line", "color": "#c8c8c8", "strokeWidth": 1},
    "encoding": {
     "x": {"field": "k", "type": "quantitative", "scale": {"domain": [-2.47, 172.05], "nice": false, "zero": false},
           "axis": {"values": [0,9,18,27,36,42,51,60,69,78,87,96,105,111,120,129,138,147,156,165],
                    "labelExpr": "['03:00','06:00','09:00','12:00','15:00','18:00','21:00','1/24','03:00','06:00','09:00','12:00','15:00','18:00','21:00','1/25','03:00','06:00','09:00','12:00'][indexof([0,9,18,27,36,42,51,60,69,78,87,96,105,111,120,129,138,147,156,165], datum.value)]",
                    "grid": true, "domain": true, "domainColor": "#4a4a4a", "ticks": false, "labelPadding": 4, "labelOverlap": false, "labelFlush": false, "title": null}},
     "y": {"field": "v", "type": "quantitative", "scale": {"domain": [-0.85, 105.4], "nice": false, "zero": false},
           "axis": {"orient": "right", "values": [10,20,30,40,50,60,70,80,90,100], "format": ".2f", "grid": true, "tickSize": 3, "labelPadding": 2, "title": null, "domain": false}}
    }
   },
   {
    "data": {"name": "rsi"},
    "transform": [{"filter": "datum.g != null && substring(datum.g, 0, 1) == 'c'"}],
    "mark": {"type": "line", "color": "#10d0e0", "strokeWidth": 1.2},
    "encoding": {
     "x": {"field": "k", "type": "quantitative"},
     "y": {"field": "v", "type": "quantitative"},
     "detail": {"field": "g", "type": "nominal"}
    }
   },
   {
    "data": {"name": "rsi"},
    "transform": [{"filter": "datum.g != null && substring(datum.g, 0, 1) == 'r'"}],
    "mark": {"type": "line", "color": "#e01010", "strokeWidth": 1.2},
    "encoding": {
     "x": {"field": "k", "type": "quantitative"},
     "y": {"field": "v", "type": "quantitative"},
     "detail": {"field": "g", "type": "nominal"}
    }
   },
   {
    "data": {"name": "one"},
    "mark": {"type": "rule", "color": "#7a7a7a", "strokeDash": [3, 3], "strokeWidth": 1},
    "encoding": {"x": {"datum": 111.3, "type": "quantitative"}}
   },
   {
    "data": {"name": "one"},
    "mark": {"type": "text", "align": "left", "baseline": "alphabetic", "fontSize": 7.4, "color": "#1aa01a"},
    "encoding": {"x": {"datum": -2.47, "type": "quantitative"}, "y": {"datum": 100, "type": "quantitative"}, "text": {"value": "0.00  30.00"}}
   },
   {
    "data": {"values": [{"v": 35.26, "txt": "35.26"}]},
    "mark": {"type": "point", "shape": "M0,0 L0.07,-0.143 L1,-0.143 L1,0.143 L0.07,0.143 Z", "size": 7056, "filled": true, "opacity": 1, "strokeWidth": 0, "color": "#c4c4c4"},
    "encoding": {
     "x": {"datum": 172.05, "type": "quantitative"},
     "y": {"field": "v", "type": "quantitative"}
    }
   },
   {
    "data": {"values": [{"v": 35.26, "txt": "35.26"}]},
    "mark": {"type": "text", "align": "left", "baseline": "middle", "dx": 6, "fontSize": 8, "fontWeight": "bold", "color": "#000000"},
    "encoding": {
     "x": {"datum": 172.05, "type": "quantitative"},
     "y": {"field": "v", "type": "quantitative"},
     "text": {"field": "txt"}
    }
   }
  ]
 },
 {
  "width": 960,
  "height": 12,
  "view": {"fill": "#f0f0f0", "stroke": null},
  "data": {"name": "one"},
  "mark": {"type": "rule", "opacity": 0},
  "encoding": {}
 }
]
}
